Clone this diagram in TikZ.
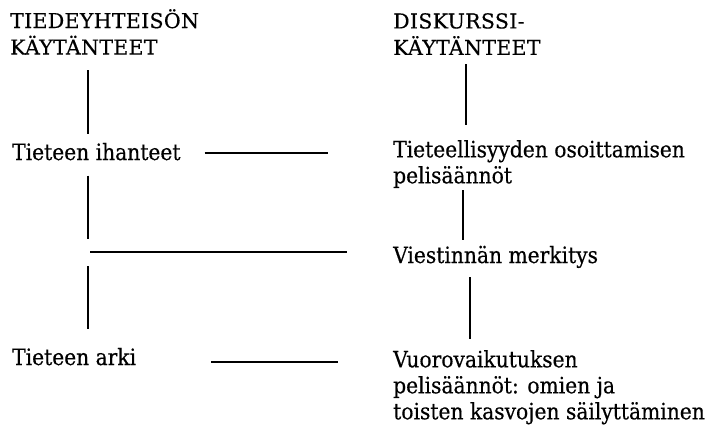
\documentclass[tikz,border=0pt]{standalone}
\usepackage{fontspec}
\usetikzlibrary{calc}
\IfFontExistsTF{DejaVu Serif Condensed}
  {\setmainfont[FakeBold=0.4]{DejaVu Serif Condensed}}
  {\setmainfont[FakeBold=0.4]{DejaVu Serif}}
\newfontfamily\headfont[LetterSpace=1.5,FakeBold=0.4]{DejaVu Serif}
\begin{document}
\begin{tikzpicture}[x=1pt,y=-1pt,
  txt/.style={inner sep=0pt,align=left,
    font=\fontsize{22.5}{26}\selectfont},
  line/.style={txt,anchor=base west},
  block/.style={txt,anchor=north west},
  head/.style={block,font=\headfont\fontsize{20.5}{26.5}\selectfont},
  rule/.style={line width=1.7pt}]
\useasboundingbox (0,0) rectangle (711,425);
% column positions of the vertical connectors
\coordinate (cL) at (88,0);
\coordinate (cR1) at (466,0);
\coordinate (cR2) at (463,0);
\coordinate (cR3) at (470,0);
% left column
\node[head] (h1) at (10,9) {TIEDEYHTEISÖN\\KÄYTÄNTEET};
\node[line] (ih) at (12,160) {Tieteen ihanteet};
\node[line] (ar) at (12,365) {Tieteen arki};
% right column
\node[head] (h2) at (393,13) {DISKURSSI-\\KÄYTÄNTEET};
\node[block] (os) at (393,140) {Tieteellisyyden osoittamisen\\pelisäännöt};
\node[line] (vm) at (393,263) {Viestinnän merkitys};
\node[block] (vv) at (393,350) {Vuorovaikutuksen\\pelisäännöt: omien ja\\toisten kasvojen säilyttäminen};
% junction of the long horizontal rule
\coordinate (jn) at (90,252);
% left vertical connectors
\draw[rule] ($(h1.south -| cL)+(0,15)$) -- ($(ih.north -| cL)+(0,-9)$);
\draw[rule] ($(ih.south -| cL)+(0,15)$) -- ($(jn -| cL)+(0,-13)$);
\draw[rule] ($(jn -| cL)+(0,14)$) -- ($(ar.north -| cL)+(0,-19)$);
% horizontal connectors
\draw[rule] (jn) -- ($(vm.west |- jn)+(-46,0)$);
\draw[rule] ($(ih.east)+(24,1.5)$) -- ($(os.west |- ih.east)+(-65,1.5)$);
\draw[rule] ($(ar.east)+(75,5.5)$) -- ($(vv.west |- ar.east)+(-55,5.5)$);
% right vertical connectors
\draw[rule] ($(h2.south -| cR1)+(0,9)$) -- ($(os.north -| cR1)+(0,-15)$);
\draw[rule] ($(os.south -| cR2)+(0,2)$) -- ($(vm.north -| cR2)+(0,-6)$);
\draw[rule] ($(vm.south -| cR3)+(0,9)$) -- ($(vv.north -| cR3)+(0,-11)$);
\end{tikzpicture}
\end{document}
